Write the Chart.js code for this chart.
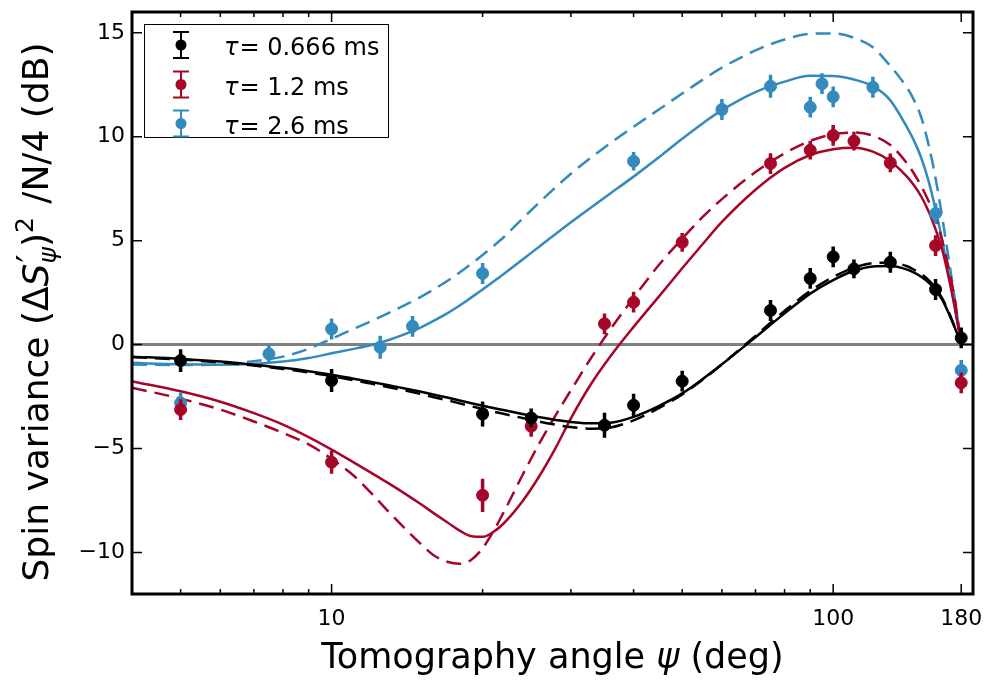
<!DOCTYPE html>
<html>
<head>
<meta charset="utf-8">
<script src="https://cdn.jsdelivr.net/npm/chart.js@4.4.1/dist/chart.umd.min.js"></script>
<style>
  html, body { margin: 0; padding: 0; background: #ffffff; }
  canvas { display: block; }
</style>
</head>
<body>
<canvas id="chart" width="990" height="680" style="width:990px;height:680px"></canvas>
<script>
const FONT = '"DejaVu Sans", sans-serif';
const BLACK = '#000000';
const RED = '#A60628';
const BLUE = '#348ABD';

// Measured spin variance (dB) versus tomography angle (deg), with error bars
const anglesShort = [5, 10, 20, 25, 35, 40, 50, 75, 90, 100, 110, 130, 160, 180];
const variance0666 = [-0.77, -1.73, -3.34, -3.53, -3.88, -2.92, -1.76, 1.64, 3.18, 4.22, 3.64, 3.96, 2.65, 0.32];
const error0666 = [0.55, 0.55, 0.6, 0.45, 0.6, 0.55, 0.5, 0.5, 0.5, 0.5, 0.45, 0.5, 0.5, 0.5];

const variance12 = [-3.13, -5.66, -7.25, -3.93, 1.0, 2.04, 4.92, 8.71, 9.35, 10.06, 9.79, 8.74, 4.76, -1.84];
const error12 = [0.5, 0.55, 0.8, 0.5, 0.5, 0.5, 0.45, 0.5, 0.45, 0.5, 0.45, 0.45, 0.5, 0.5];

const anglesLong = [5, 7.5, 10, 12.5, 14.5, 20, 40, 60, 75, 90, 95, 100, 120, 160, 180];
const variance26 = [-2.81, -0.45, 0.75, -0.13, 0.88, 3.42, 8.82, 11.31, 12.43, 11.42, 12.55, 11.92, 12.38, 6.30, -1.24];
const error26 = [0.5, 0.45, 0.5, 0.55, 0.5, 0.5, 0.45, 0.5, 0.55, 0.5, 0.5, 0.5, 0.5, 0.5, 0.5];

// Model curves: solid and dashed variants for each squeezing time
const fitAngles = [4, 5, 6, 7, 8, 9, 10, 11, 12, 13, 14, 15, 16, 17, 18, 19, 20, 21, 22, 24, 26, 28, 30, 33, 36, 40, 45, 50, 55, 60, 70, 80, 90, 100, 110, 120, 130, 140, 145, 150, 155, 160, 165, 170, 175, 180];
const fit0666Solid = [-0.58, -0.69, -0.82, -0.97, -1.12, -1.28, -1.45, -1.63, -1.80, -1.96, -2.11, -2.26, -2.41, -2.55, -2.69, -2.82, -2.94, -3.05, -3.15, -3.34, -3.50, -3.63, -3.72, -3.79, -3.76, -3.48, -2.95, -2.35, -1.65, -0.95, 0.35, 1.50, 2.45, 3.10, 3.55, 3.76, 3.78, 3.62, 3.46, 3.25, 2.98, 2.62, 2.15, 1.50, 0.78, 0];
const fit0666Dashed = [-0.60, -0.72, -0.86, -1.01, -1.17, -1.34, -1.52, -1.70, -1.88, -2.05, -2.21, -2.37, -2.53, -2.68, -2.83, -2.97, -3.10, -3.22, -3.33, -3.53, -3.71, -3.86, -3.97, -4.05, -3.99, -3.65, -3.05, -2.40, -1.68, -0.95, 0.42, 1.62, 2.58, 3.25, 3.70, 3.92, 3.94, 3.78, 3.60, 3.38, 3.10, 2.72, 2.22, 1.56, 0.80, 0];
const fit12Solid = [-1.77, -2.25, -2.75, -3.30, -3.85, -4.45, -5.05, -5.63, -6.17, -6.68, -7.17, -7.65, -8.12, -8.55, -8.95, -9.22, -9.25, -9.02, -8.62, -7.55, -6.30, -4.95, -3.55, -1.85, -0.55, 0.85, 2.33, 3.67, 4.85, 5.90, 7.45, 8.50, 9.12, 9.40, 9.47, 9.28, 8.82, 8.10, 7.65, 7.10, 6.40, 5.55, 4.55, 3.20, 1.70, 0];
const fit12Dashed = [-2.08, -2.60, -3.13, -3.70, -4.25, -4.80, -5.50, -6.25, -7.15, -8.05, -8.85, -9.55, -10.15, -10.45, -10.55, -10.35, -9.80, -9.00, -8.10, -6.30, -4.72, -3.38, -2.20, -0.60, 0.75, 2.25, 3.85, 5.10, 6.15, 7.00, 8.30, 9.20, 9.80, 10.12, 10.20, 10.05, 9.60, 8.75, 8.22, 7.60, 6.90, 6.10, 5.00, 3.65, 2.10, 0];
const fit26Solid = [-0.88, -0.95, -0.97, -0.93, -0.82, -0.65, -0.42, -0.22, -0.02, 0.22, 0.50, 0.80, 1.15, 1.50, 1.88, 2.27, 2.65, 3.02, 3.38, 4.08, 4.73, 5.33, 5.88, 6.62, 7.28, 8.08, 9.02, 9.90, 10.65, 11.28, 12.15, 12.65, 12.93, 12.92, 12.75, 12.43, 11.75, 10.50, 9.80, 8.95, 7.85, 6.50, 5.00, 3.40, 1.72, 0];
const fit26Dashed = [-0.96, -0.98, -0.96, -0.80, -0.58, -0.20, 0.28, 0.73, 1.13, 1.52, 1.90, 2.27, 2.66, 3.06, 3.47, 3.89, 4.31, 4.73, 5.15, 6.05, 6.85, 7.58, 8.22, 9.02, 9.70, 10.48, 11.32, 12.08, 12.75, 13.32, 14.15, 14.68, 14.95, 14.97, 14.76, 14.30, 13.40, 12.40, 11.75, 10.90, 9.60, 8.00, 6.10, 4.10, 2.10, 0];

// Axes
const xMajorTicks = [10, 100, 180];
const xMinorTicks = [5, 6, 7, 8, 9, 20, 30, 40, 50, 60, 70, 80, 90];
const yTicks = [-10, -5, 0, 5, 10, 15];
const tauValues = ['0.666', '1.2', '2.6'];
const seriesColors = [BLACK, RED, BLUE];

const toPoints = (xs, ys) => xs.map((x, i) => ({ x: x, y: ys[i] }));

function pointSet(xs, ys, errs, color) {
  return {
    type: 'scatter',
    data: toPoints(xs, ys),
    errors: errs,
    showLine: false,
    pointRadius: 6,
    pointHoverRadius: 6,
    pointBackgroundColor: color,
    pointBorderColor: color,
    pointBorderWidth: 1,
    borderColor: color,
    backgroundColor: color
  };
}

function curveSet(ys, color, dashed) {
  return {
    type: 'line',
    data: toPoints(fitAngles, ys),
    borderColor: color,
    borderWidth: 2.5,
    borderDash: dashed ? [15, 8] : [],
    pointRadius: 0,
    pointHoverRadius: 0,
    fill: false,
    cubicInterpolationMode: 'monotone'
  };
}

// Gray reference line at 0 dB
const zeroLine = {
  id: 'zeroLine',
  beforeDatasetsDraw(chart) {
    const { ctx, chartArea: a, scales: { y } } = chart;
    const py = y.getPixelForValue(0);
    ctx.save();
    ctx.strokeStyle = '#808080';
    ctx.lineWidth = 3;
    ctx.beginPath();
    ctx.moveTo(a.left, py);
    ctx.lineTo(a.right, py);
    ctx.stroke();
    ctx.restore();
  }
};

// Vertical error bars beneath each measured point
const errorBars = {
  id: 'errorBars',
  beforeDatasetDraw(chart, args) {
    const ds = chart.data.datasets[args.index];
    if (!ds.errors) return;
    const { ctx, scales: { x, y } } = chart;
    ctx.save();
    ctx.strokeStyle = ds.borderColor;
    ctx.lineWidth = 3.5;
    ctx.beginPath();
    ds.data.forEach((p, i) => {
      const px = x.getPixelForValue(p.x);
      ctx.moveTo(px, y.getPixelForValue(p.y - ds.errors[i]));
      ctx.lineTo(px, y.getPixelForValue(p.y + ds.errors[i]));
    });
    ctx.stroke();
    ctx.restore();
  }
};

// Box frame with inward ticks on all four sides
const axesFrame = {
  id: 'axesFrame',
  afterDatasetsDraw(chart) {
    const { ctx, chartArea: a, scales: { x, y } } = chart;
    ctx.save();
    ctx.strokeStyle = '#000';
    ctx.lineWidth = 1.5;
    ctx.beginPath();
    const xTick = (v, len) => {
      const px = x.getPixelForValue(v);
      ctx.moveTo(px, a.bottom); ctx.lineTo(px, a.bottom - len);
      ctx.moveTo(px, a.top); ctx.lineTo(px, a.top + len);
    };
    xMajorTicks.forEach(v => xTick(v, 10));
    xMinorTicks.forEach(v => xTick(v, 5));
    yTicks.forEach(v => {
      const py = y.getPixelForValue(v);
      ctx.moveTo(a.left, py); ctx.lineTo(a.left + 10, py);
      ctx.moveTo(a.right, py); ctx.lineTo(a.right - 10, py);
    });
    ctx.stroke();
    ctx.lineWidth = 3;
    ctx.strokeRect(a.left, a.top, a.right - a.left, a.bottom - a.top);
    ctx.restore();
  }
};

// Run a list of text pieces along a baseline; pieces may be raised/lowered
function layoutPieces(ctx, pieces) {
  let total = 0;
  pieces.forEach(p => {
    if (p.stack) {
      let w = 0;
      p.stack.forEach(s => { ctx.font = s.font; w = Math.max(w, ctx.measureText(s.text).width + (s.dx || 0)); });
      p.width = w;
    } else {
      ctx.font = p.font;
      p.width = ctx.measureText(p.text).width + (p.pad || 0);
    }
    total += p.width;
  });
  return total;
}

function drawPieces(ctx, pieces, x0) {
  let x = x0;
  pieces.forEach(p => {
    const items = p.stack ? p.stack : [p];
    items.forEach(s => {
      ctx.font = s.font;
      ctx.fillText(s.text, x + (s.dx || 0), s.dy || 0);
    });
    x += p.width;
  });
}

const axisTitles = {
  id: 'axisTitles',
  afterDraw(chart) {
    const { ctx, chartArea: a } = chart;
    ctx.save();
    ctx.fillStyle = '#000';
    ctx.textBaseline = 'alphabetic';
    ctx.textAlign = 'left';

    // x-axis title
    const xReg = '35px ' + FONT;
    const xItal = 'italic 35px ' + FONT;
    const xPieces = [
      { text: 'Tomography angle ', font: xReg },
      { text: 'ψ', font: xItal },
      { text: ' (deg)', font: xReg }
    ];
    const xw = layoutPieces(ctx, xPieces);
    ctx.save();
    ctx.translate((a.left + a.right) / 2, 668);
    drawPieces(ctx, xPieces, -xw / 2);
    ctx.restore();

    // y-axis title, rotated
    const reg = '36px ' + FONT;
    const ital = 'italic 36px ' + FONT;
    const smallReg = '25px ' + FONT;
    const smallItal = 'italic 25px ' + FONT;
    const yPieces = [
      { text: 'Spin variance (', font: reg },
      { text: 'Δ', font: reg },
      { text: 'S', font: ital },
      { stack: [
          { text: '′', font: reg, dy: -6, dx: 1 },
          { text: 'ψ', font: smallItal, dy: 8 }
        ] },
      { text: ')', font: reg },
      { text: '2', font: smallReg, dy: -15, pad: 2 },
      { text: ' /N/4 (dB)', font: reg }
    ];
    const yw = layoutPieces(ctx, yPieces);
    ctx.save();
    ctx.translate(48, 312);
    ctx.rotate(-Math.PI / 2);
    drawPieces(ctx, yPieces, -yw / 2);
    ctx.restore();
    ctx.restore();
  }
};

// Legend with error-bar markers
const legendBox = {
  id: 'legendBox',
  afterDraw(chart) {
    const { ctx } = chart;
    const box = { left: 144.5, top: 24.5, right: 388.5, bottom: 137.5 };
    ctx.save();
    ctx.fillStyle = '#ffffff';
    ctx.fillRect(box.left, box.top, box.right - box.left, box.bottom - box.top);
    ctx.strokeStyle = '#000';
    ctx.lineWidth = 1;
    ctx.strokeRect(box.left, box.top, box.right - box.left, box.bottom - box.top);
    const markerX = 181;
    const rowY = [45, 84.5, 123.5];
    tauValues.forEach((tau, i) => {
      const cy = rowY[i];
      const c = seriesColors[i];
      ctx.strokeStyle = c;
      ctx.fillStyle = c;
      ctx.lineWidth = 2;
      ctx.beginPath();
      ctx.moveTo(markerX, cy - 13); ctx.lineTo(markerX, cy + 13);
      ctx.moveTo(markerX - 8, cy - 13); ctx.lineTo(markerX + 8, cy - 13);
      ctx.moveTo(markerX - 8, cy + 13); ctx.lineTo(markerX + 8, cy + 13);
      ctx.stroke();
      ctx.beginPath();
      ctx.arc(markerX, cy, 5.5, 0, Math.PI * 2);
      ctx.fill();

      ctx.fillStyle = '#000';
      ctx.textBaseline = 'alphabetic';
      ctx.textAlign = 'left';
      const pieces = [
        { text: 'τ', font: 'italic 24px ' + FONT, pad: 1 },
        { text: '=', font: '24px ' + FONT },
        { text: ' ' + tau + ' ms', font: '24px ' + FONT }
      ];
      layoutPieces(ctx, pieces);
      ctx.save();
      ctx.translate(0, cy + 10);
      drawPieces(ctx, pieces, 224);
      ctx.restore();
    });
    ctx.restore();
  }
};

const minusLabel = v => (v < 0 ? '\u2212' + Math.abs(v) : String(v));

new Chart(document.getElementById('chart'), {
  type: 'scatter',
  data: {
    datasets: [
      pointSet(anglesShort, variance0666, error0666, BLACK),
      pointSet(anglesShort, variance12, error12, RED),
      pointSet(anglesLong, variance26, error26, BLUE),
      curveSet(fit0666Solid, BLACK, false),
      curveSet(fit0666Dashed, BLACK, true),
      curveSet(fit12Solid, RED, false),
      curveSet(fit12Dashed, RED, true),
      curveSet(fit26Solid, BLUE, false),
      curveSet(fit26Dashed, BLUE, true)
    ]
  },
  options: {
    responsive: false,
    animation: false,
    events: [],
    layout: { padding: { top: 12, right: 17, left: 0, bottom: 0 } },
    plugins: { legend: { display: false }, tooltip: { enabled: false } },
    scales: {
      x: {
        type: 'logarithmic',
        position: 'bottom',
        min: 4,
        max: 190,
        grid: { display: false, drawTicks: false },
        border: { display: false },
        afterBuildTicks: s => { s.ticks = xMajorTicks.map(v => ({ value: v })); },
        afterFit: s => { s.height = 86; s.paddingLeft = 0; s.paddingRight = 0; },
        ticks: {
          autoSkip: false,
          maxRotation: 0,
          padding: 12,
          color: '#000',
          font: { family: 'DejaVu Sans', size: 22 },
          callback: v => String(v)
        }
      },
      y: {
        type: 'linear',
        position: 'left',
        min: -12,
        max: 16,
        grid: { display: false, drawTicks: false },
        border: { display: false },
        afterBuildTicks: s => { s.ticks = yTicks.map(v => ({ value: v })); },
        afterFit: s => { s.width = 132; s.paddingTop = 0; s.paddingBottom = 0; },
        ticks: {
          autoSkip: false,
          padding: 7,
          color: '#000',
          font: { family: 'DejaVu Sans', size: 22 },
          callback: v => minusLabel(v)
        }
      }
    }
  },
  plugins: [zeroLine, errorBars, axesFrame, axisTitles, legendBox]
});
</script>
</body>
</html>
